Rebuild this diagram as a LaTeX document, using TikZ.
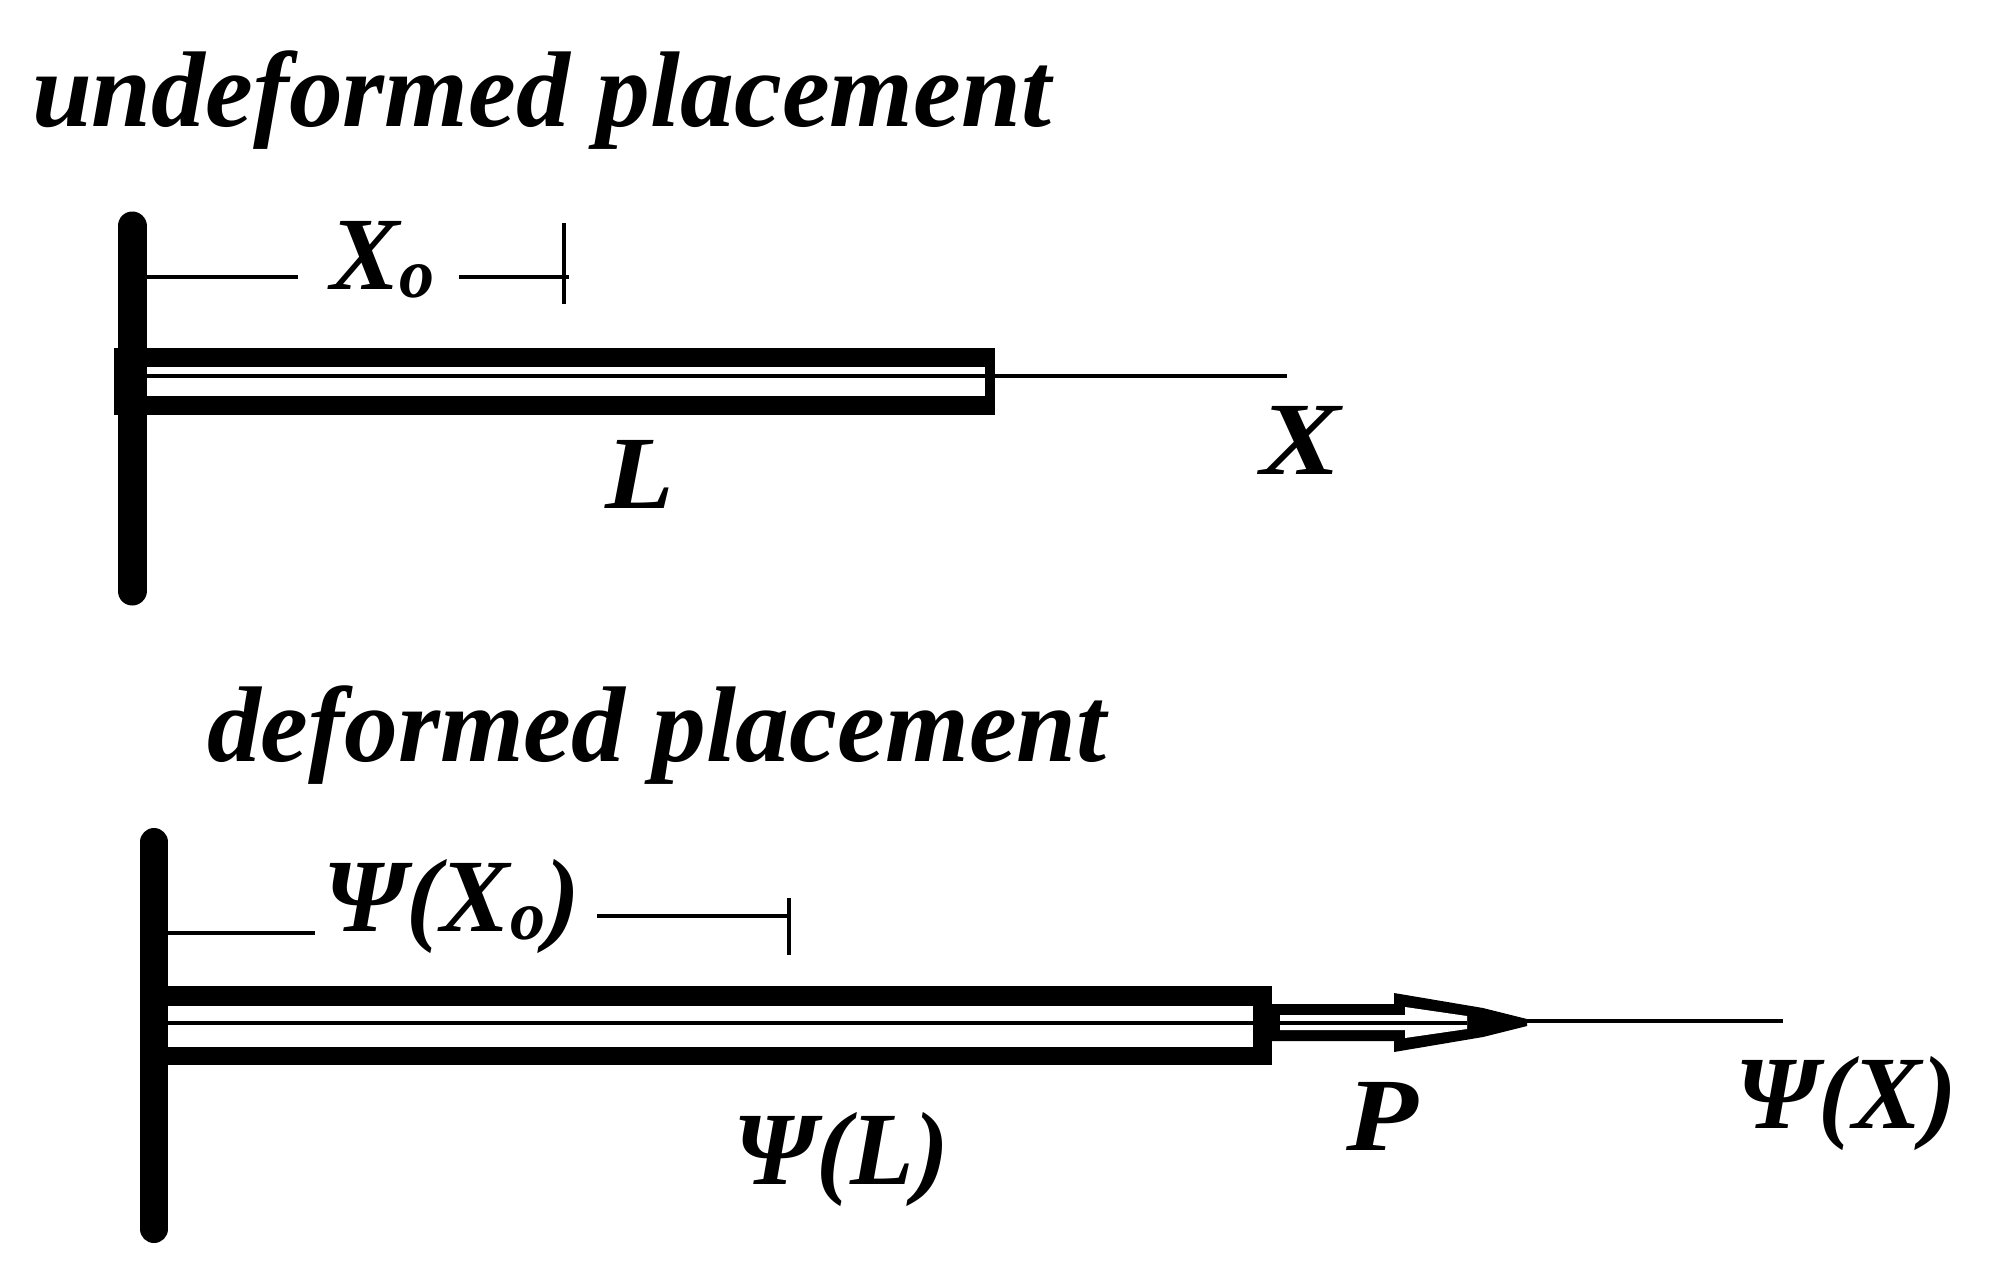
\documentclass[tikz,border=0pt]{standalone}
\usepackage{fontspec}
\usepackage{graphicx}
\setmainfont{Liberation Serif}
\begin{document}
\begin{tikzpicture}[x=1pt,y=-1pt,
  lab/.style={anchor=base west,inner sep=0pt,outer sep=0pt,font=\fontsize{104}{104}\selectfont\bfseries\itshape},
  titlelab/.style={lab,font=\fontsize{107.6}{108}\selectfont\bfseries\itshape},
  wall/.style={line width=#1,line cap=round},
  thin dim/.style={line width=4pt},
  band/.style={fill=black,draw=none}]
\useasboundingbox (0,0) rectangle (1991,1272);
\fill[white] (0,0) rectangle (1991,1272);
% undeformed
\node[titlelab] (t1) at (32,126) {undeformed placement};
\coordinate (w1a) at (132,226); \coordinate (w1b) at (132,591);
\draw[wall=29pt] (w1a) -- (w1b);
\fill[band] (114,348) rectangle (147,415);
\fill[band] (147,348) rectangle (995,367);
\fill[band] (147,396) rectangle (995,415);
\fill[band] (985,348) rectangle (995,415);
\coordinate (c1a) at (147,376); \coordinate (c1b) at (985,376);
\draw[line width=4pt] (c1a) -- (c1b);
\coordinate (ax1a) at (995,376); \coordinate (ax1b) at (1287,376);
\draw[thin dim] (ax1a) -- (ax1b);
\node[lab] (x0) at (330,289) {X\raisebox{-8pt}{\fontsize{70}{70}\selectfont o}};
\coordinate (d1a) at (147,277); \coordinate (d1b) at (298,277);
\coordinate (d1c) at (459,277); \coordinate (d1d) at (569,277);
\coordinate (t1a) at (564,223); \coordinate (t1b) at (564,304);
\draw[thin dim] (d1a) -- (d1b);
\draw[thin dim] (d1c) -- (d1d);
\draw[thin dim] (t1a) -- (t1b);
\node[lab] (lL) at (605,508) {\scalebox{1.08}[1]{L}};
\node[lab] (lX) at (1260,474) {\scalebox{1.16}[1]{X}};
% deformed
\node[titlelab] (t2) at (207,761) {deformed placement};
\coordinate (w2a) at (154,842); \coordinate (w2b) at (154,1229);
\draw[wall=28pt] (w2a) -- (w2b);
\fill[band] (168,986) rectangle (1272,1006);
\fill[band] (168,1047) rectangle (1272,1065);
\fill[band] (1253,986) rectangle (1272,1065);
\coordinate (c2a) at (168,1023); \coordinate (c2b) at (1253,1023);
\draw[line width=3.5pt] (c2a) -- (c2b);
% arrow P
\fill[band] (1272,1004) -- (1394,1004) -- (1394,993) -- (1483,1008) -- (1527,1019) -- (1527,1026) -- (1483,1037) -- (1394,1052) -- (1394,1041) -- (1272,1041) -- cycle;
\fill[white] (1280,1015) -- (1405,1015) -- (1405,1007) -- (1467,1016) -- (1467,1029) -- (1405,1038) -- (1405,1030) -- (1280,1030) -- cycle;
\coordinate (c3a) at (1280,1023); \coordinate (c3b) at (1467,1023);
\draw[line width=3.5pt] (c3a) -- (c3b);
\coordinate (ax2a) at (1527,1021); \coordinate (ax2b) at (1783,1021);
\draw[thin dim] (ax2a) -- (ax2b);
\coordinate (d2a) at (168,933); \coordinate (d2b) at (315,933);
\coordinate (d2c) at (597,916); \coordinate (d2d) at (789,916);
\coordinate (t2a) at (789,898); \coordinate (t2b) at (789,955);
\draw[thin dim] (d2a) -- (d2b);
\draw[thin dim] (d2c) -- (d2d);
\draw[thin dim] (t2a) -- (t2b);
\node[lab] (pX0) at (323,931) {Ψ(X\raisebox{-8pt}{\fontsize{70}{70}\selectfont o})};
\node[lab] (pL) at (733,1184) {Ψ(L)};
\node[lab] (lP) at (1346,1150) {\scalebox{1.13}[1]{P}};
\node[lab] (pX) at (1735,1128) {Ψ(X)};
\end{tikzpicture}
\end{document}
